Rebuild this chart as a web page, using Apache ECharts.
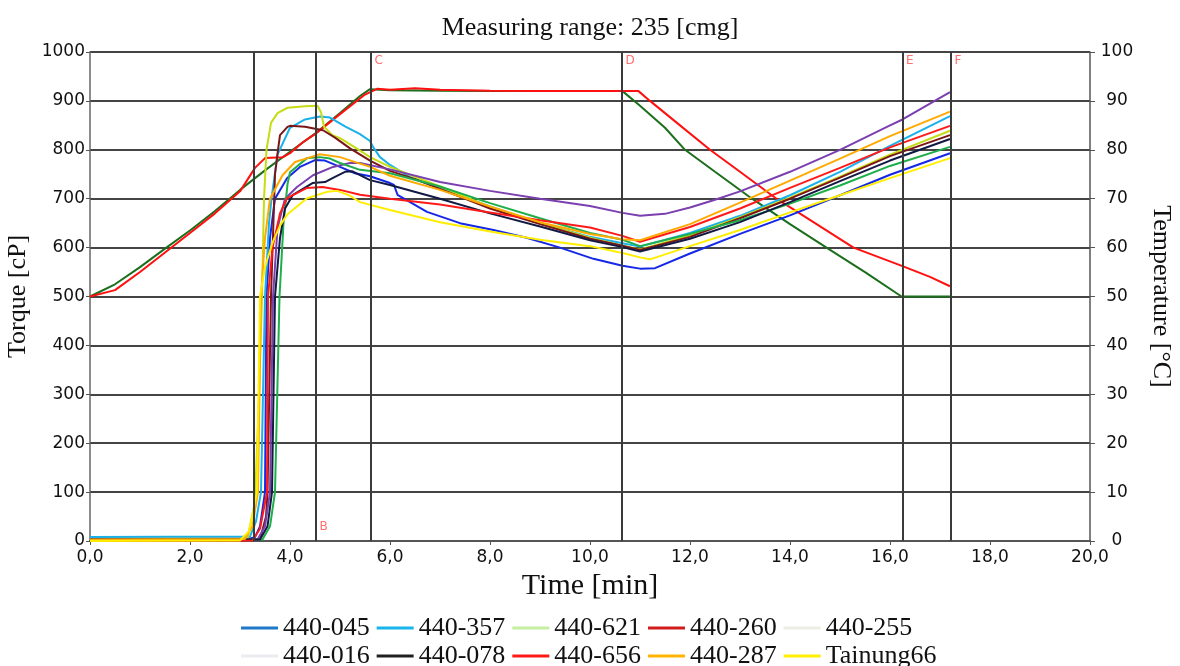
<!DOCTYPE html>
<html>
<head>
<meta charset="utf-8">
<script src="https://cdn.jsdelivr.net/npm/echarts@6/dist/echarts.min.js"></script>
<style>
html, body { margin: 0; padding: 0; background: #fff; }
#main { width: 1180px; height: 666px; }
</style>
</head>
<body>
<div id="main"></div>
<script>
// [time min, value] -- temperature curves (right axis, °C)
const tempGreen = [[0,50],[0.5,52.5],[1,56],[1.5,59.8],[2,63.5],[2.5,67.5],[3,71.8],[3.5,75.8],[4,79.6],[4.5,83.3],[5,87.5],[5.4,91],[5.6,92.4],[6,92.2],[7,92.1],[8,92],[9,92],[10,92],[10.65,92],[11,89],[11.5,84.5],[11.9,80],[12.5,75.5],[13.24,70],[14,64.8],[14.73,60],[15.5,55],[16.23,50],[17.2,50]];
const tempRed = [[0,50],[0.5,51.3],[1,55],[1.5,59],[2,63],[2.5,67],[3,71.5],[3.3,76.3],[3.5,78.3],[3.86,78.5],[4,79.3],[4.25,81.5],[4.5,83.2],[5,87.3],[5.5,91.3],[5.75,92.5],[6,92.3],[6.5,92.6],[7,92.3],[8,92.1],[9,92],[10,92],[10.97,92],[11.2,90],[11.8,85],[12.4,80],[13,75.5],[13.73,70],[14.5,65],[15.27,60],[16.25,56.2],[16.8,54],[17.2,52.1]];

// torque curves (left axis, cP)
const s045 = [[0,5],[3.2,5],[3.3,8],[3.4,30],[3.5,100],[3.53,500],[3.6,620],[3.7,700],[3.94,742],[4.2,765],[4.5,779],[4.7,778],[5,765],[5.3,752],[5.6,746],[6,732],[6.08,728],[6.15,708],[6.74,673],[7.4,650],[8.07,636],[8.73,620],[9.4,600],[10.07,577],[10.65,563],[11,557],[11.3,558],[12,588],[13,628],[14,666],[15,707],[16,749],[17.2,793]];
const s357 = [[0,8],[3.2,9],[3.32,40],[3.42,100],[3.5,500],[3.58,650],[3.63,700],[3.75,790],[4,845],[4.3,862],[4.6,868],[4.8,866],[5.1,848],[5.4,832],[5.6,818],[5.66,806],[5.8,785],[6,769],[6.4,744],[7,722],[8,684],[9,650],[10,622],[10.65,609],[11,602],[12,630],[13,665],[14,707],[15,755],[16,808],[17.2,869]];
const s621 = [[0,4],[3.15,5],[3.3,80],[3.38,300],[3.44,500],[3.48,700],[3.53,800],[3.62,855],[3.75,875],[3.95,886],[4.3,889],[4.55,890],[4.62,877],[4.68,847],[4.85,830],[5,824],[5.3,805],[5.6,785],[6,765],[6.5,745],[7,725],[8,683],[9,650],[10,620],[10.65,604],[11,596],[12,625],[13,662],[14,702],[15,745],[16,790],[17.2,839]];
const s260 = [[0,3],[3.4,3],[3.52,50],[3.55,100],[3.62,500],[3.7,750],[3.76,800],[3.8,830],[3.95,847],[4,849],[4.3,847],[4.66,840],[4.9,825],[5.2,803],[5.6,778],[6,757],[6.5,740],[7,720],[8,680],[9,648],[10,618],[10.65,604],[11,595],[12,622],[13,660],[14,700],[15,743],[16,787],[17.2,830]];
const s255 = [[0,3],[3.35,3],[3.5,30],[3.6,100],[3.66,500],[3.75,640],[3.9,700],[4.14,724],[4.46,748],[4.86,765],[5.2,773],[5.4,773],[6,760],[7,734],[8,716],[9,700],[10,685],[10.65,671],[11,665],[11.5,669],[12,682],[12.5,698],[13,715],[14,755],[15,800],[16,850],[16.25,862],[17.2,918]];
const s016 = [[0,2],[3.45,3],[3.6,30],[3.7,100],[3.79,500],[3.87,650],[3.95,730],[4,754],[4.34,783],[4.6,785],[4.8,782],[5,773],[5.4,759],[6,752],[6.74,732],[7,725],[8,691],[9,660],[10,630],[10.65,616],[11,603],[12,628],[13,656],[14,690],[15,727],[16,767],[17.2,806]];
const s078 = [[0,3],[3.4,3],[3.55,30],[3.64,100],[3.7,500],[3.8,620],[3.9,680],[4.06,708],[4.45,732],[4.7,734],[4.85,742],[5.1,755],[5.25,756],[5.6,738],[6,728],[7,700],[8,670],[9,643],[10,615],[10.65,601],[11,592],[12,618],[13,652],[14,693],[15,736],[16,778],[17.2,822]];
const s656 = [[0,0],[3.25,1],[3.4,25],[3.54,100],[3.56,500],[3.65,600],[3.8,670],[3.94,701],[4.34,722],[4.65,724],[5,718],[5.4,708],[6,700],[7,688],[8,672],[9,656],[10,641],[10.65,624],[11,612],[12,642],[13,680],[14,722],[15,763],[16,805],[17.2,849]];
const s287 = [[0,3],[3.1,4],[3.25,30],[3.36,100],[3.42,500],[3.5,620],[3.6,700],[3.85,748],[4.1,775],[4.35,783],[4.6,791],[5,785],[5.6,765],[6,747],[7,718],[8,684],[9,652],[10,628],[10.65,617],[11,615],[12,648],[13,692],[14,737],[15,782],[16,828],[17.2,878]];
const sTa66 = [[0,0],[3,1],[3.18,20],[3.34,100],[3.4,500],[3.5,560],[3.65,610],[3.8,645],[3.94,667],[4.34,701],[4.74,714],[4.95,716],[5.2,706],[5.4,693],[6,677],[7,652],[8,633],[9,616],[10,603],[10.65,589],[11,580],[11.2,576],[12,603],[13,636],[14,672],[15,707],[16,742],[17.2,783]];

// event lines and their letters
const markTimes = [3.28, 4.52, 5.62, 10.64, 16.25, 17.22];
const markLabels = [[4.52, 29, 'B'], [5.62, 982, 'C'], [10.64, 982, 'D'], [16.25, 982, 'E'], [17.22, 982, 'F']];

const legendRow1 = ['440-045', '440-357', '440-621', '440-260', '440-255'];
const legendRow2 = ['440-016', '440-078', '440-656', '440-287', 'Tainung66'];
const legendColors = ['#1f78c8', '#1ab4ec', '#c4eea0', '#d01c1c', '#eceee4',
                      '#ececf0', '#202020', '#ff1a1a', '#ffb400', '#ffee00'];

let myChart = echarts.init(document.getElementById('main'));

const torque = [
    { name: '440-045', data: s045, color: '#1428e6' },
    { name: '440-357', data: s357, color: '#1ab0ea' },
    { name: '440-621', data: s621, color: '#c6dc14' },
    { name: '440-260', data: s260, color: '#7a1616' },
    { name: '440-255', data: s255, color: '#7b3fb0' },
    { name: '440-016', data: s016, color: '#1eaf4a' },
    { name: '440-078', data: s078, color: '#121a44' },
    { name: '440-656', data: s656, color: '#ff1a1a' },
    { name: '440-287', data: s287, color: '#ffaa00' },
    { name: 'Tainung66', data: sTa66, color: '#ffee00' }
];

const serifFont = 'Liberation Serif';
const sansFont = 'DejaVu Sans';

function legendItems(names, offset) {
    return names.map(function (n, i) {
        return { name: n, itemStyle: { color: legendColors[offset + i] } };
    });
}

function makeLegend(names, offset, top) {
    return {
        left: 241,
        top: top,
        padding: 0,
        icon: 'rect',
        itemWidth: 37,
        itemHeight: 3,
        itemGap: 7,
        selectedMode: false,
        textStyle: { fontFamily: serifFont, fontSize: 26, color: '#111', width: 90 },
        data: legendItems(names, offset)
    };
}

let series = torque.map(function (s) {
    return {
        name: s.name,
        type: 'line',
        symbol: 'none',
        yAxisIndex: 0,
        lineStyle: { width: 2, color: s.color },
        itemStyle: { color: s.color },
        data: s.data
    };
});

series.unshift({
    name: 'tempGreen', type: 'line', symbol: 'none', yAxisIndex: 1,
    lineStyle: { width: 2, color: '#1b6e1b' }, data: tempGreen
}, {
    name: 'tempRed', type: 'line', symbol: 'none', yAxisIndex: 1,
    lineStyle: { width: 2, color: '#ff1010' }, data: tempRed
});

series.push({
    name: 'events',
    type: 'scatter',
    symbolSize: 1,
    itemStyle: { color: 'rgba(0,0,0,0)' },
    label: {
        show: true,
        position: 'right',
        distance: 3,
        formatter: function (p) { return p.data[2]; },
        color: '#ff4a4a',
        fontFamily: sansFont,
        fontSize: 12
    },
    markLine: {
        silent: true,
        symbol: 'none',
        label: { show: false },
        lineStyle: { color: '#3a3a3a', width: 2, type: 'solid' },
        data: markTimes.map(function (t) { return { xAxis: t }; })
    },
    data: markLabels,
    z: 1
});

option = {
    animation: false,
    backgroundColor: '#fff',
    title: {
        text: 'Measuring range: 235 [cmg]',
        left: 'center',
        top: 10,
        textStyle: { fontFamily: serifFont, fontSize: 26, fontWeight: 'normal', color: '#111' }
    },
    legend: [makeLegend(legendRow1, 0, 615), makeLegend(legendRow2, 5, 643)],
    grid: { left: 90, right: 90, top: 52, bottom: 125, outerBoundsMode: 'none' },
    xAxis: {
        type: 'value',
        min: 0,
        max: 20,
        interval: 2,
        name: 'Time [min]',
        nameLocation: 'middle',
        nameGap: 28,
        nameTextStyle: { fontFamily: serifFont, fontSize: 30, color: '#111' },
        axisLine: { lineStyle: { color: '#555', width: 2 } },
        axisTick: { show: true, length: 4, lineStyle: { color: '#555' } },
        axisLabel: {
            margin: 8,
            fontFamily: sansFont,
            fontSize: 17,
            color: '#111',
            formatter: function (v) { return v.toFixed(1).replace('.', ','); }
        },
        splitLine: { show: false }
    },
    yAxis: [
        {
            type: 'value',
            min: 0,
            max: 1000,
            interval: 100,
            name: 'Torque [cP]',
            nameLocation: 'middle',
            nameGap: 46,
            nameTextStyle: { fontFamily: serifFont, fontSize: 26, color: '#111' },
            axisLine: { show: true, lineStyle: { color: '#666', width: 1.5 } },
            axisTick: { show: true, length: 4, lineStyle: { color: '#555' } },
            axisLabel: {
                margin: 5, fontFamily: sansFont, fontSize: 17, color: '#111',
                formatter: function (v) { return String(v); }
            },
            splitLine: { show: true, lineStyle: { color: '#444', width: 2 } }
        },
        {
            type: 'value',
            min: 0,
            max: 100,
            interval: 10,
            position: 'right',
            name: 'Temperature [°C]',
            nameLocation: 'middle',
            nameRotate: -90,
            nameGap: 58,
            nameTextStyle: { fontFamily: serifFont, fontSize: 26, color: '#111' },
            axisLine: { show: true, lineStyle: { color: '#555', width: 1.5 } },
            axisTick: { show: true, length: 5, lineStyle: { color: '#555' } },
            axisLabel: {
                margin: 27, align: 'center', fontFamily: sansFont, fontSize: 17, color: '#111',
                formatter: function (v) { return String(v); }
            },
            splitLine: { show: false }
        }
    ],
    series: series
};

myChart.setOption(option);
</script>
</body>
</html>
